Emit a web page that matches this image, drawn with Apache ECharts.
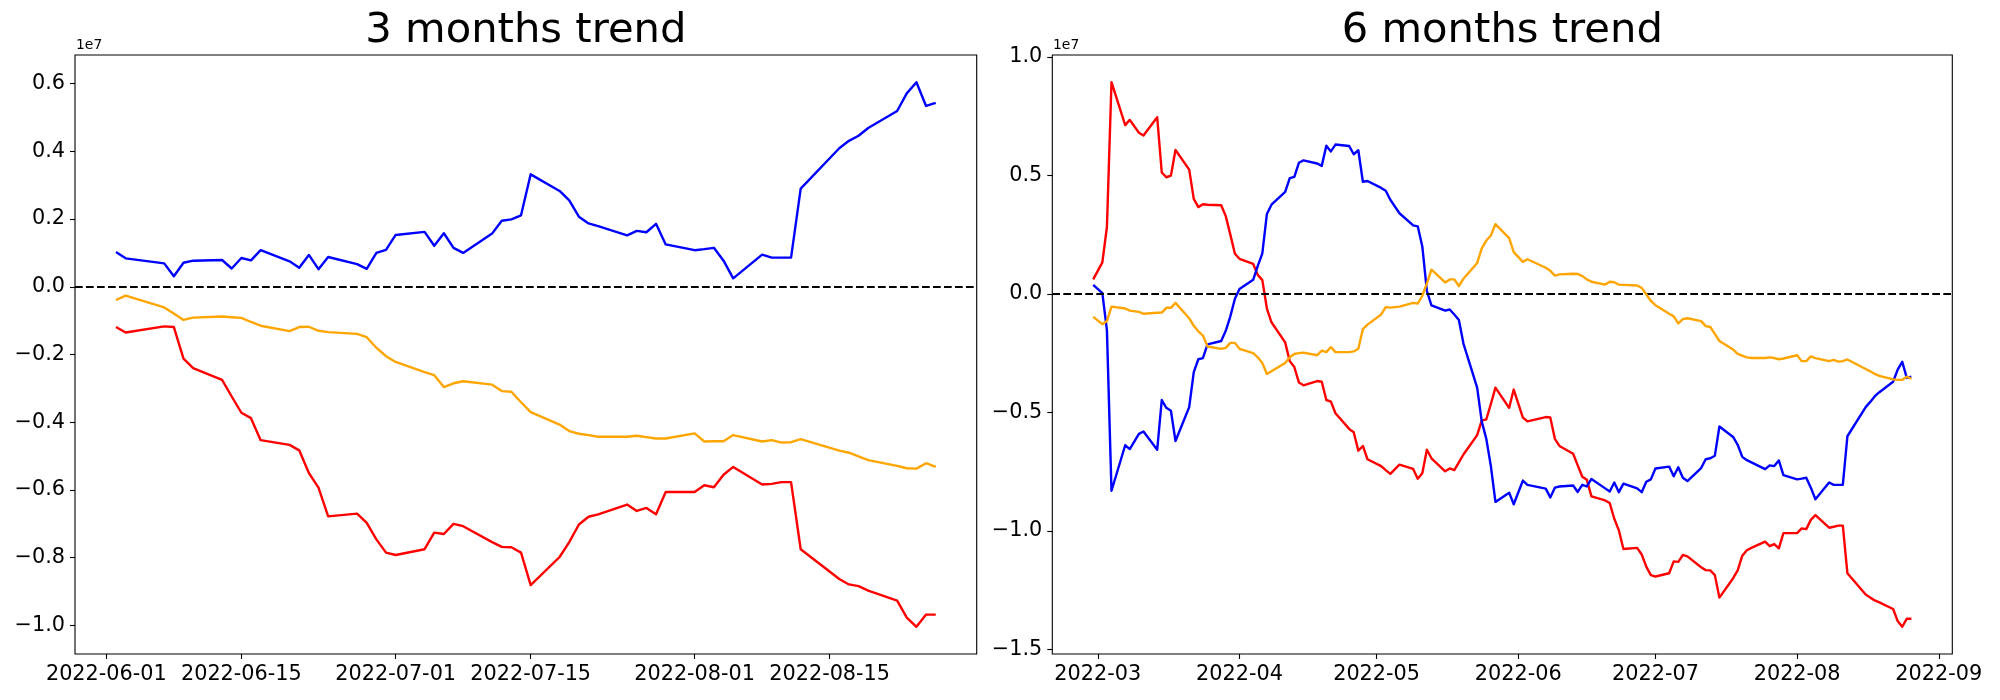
<!DOCTYPE html>
<html>
<head>
<meta charset="utf-8">
<script src="https://cdn.jsdelivr.net/npm/echarts@6/dist/echarts.min.js"></script>
<style>
html,body{margin:0;padding:0;background:#fff;}
#chart{width:2000px;height:700px;}
</style>
</head>
<body>
<div id="chart"></div>
<script>
// ---------- DATA (values in units of 1e7) ----------
const dates3 = ['2022-06-02','2022-06-03','2022-06-07','2022-06-08','2022-06-09','2022-06-10','2022-06-13','2022-06-14','2022-06-15','2022-06-16','2022-06-17','2022-06-20','2022-06-21','2022-06-22','2022-06-23','2022-06-24','2022-06-27','2022-06-28','2022-06-29','2022-06-30','2022-07-01','2022-07-04','2022-07-05','2022-07-06','2022-07-07','2022-07-08','2022-07-11','2022-07-12','2022-07-13','2022-07-14','2022-07-15','2022-07-18','2022-07-19','2022-07-20','2022-07-21','2022-07-22','2022-07-25','2022-07-26','2022-07-27','2022-07-28','2022-07-29','2022-08-01','2022-08-02','2022-08-03','2022-08-04','2022-08-05','2022-08-08','2022-08-09','2022-08-10','2022-08-11','2022-08-12','2022-08-16','2022-08-17','2022-08-18','2022-08-19','2022-08-22','2022-08-23','2022-08-24','2022-08-25','2022-08-26'];
const blue3 = [0.103,0.084,0.069,0.031,0.071,0.077,0.079,0.054,0.085,0.078,0.108,0.075,0.056,0.094,0.052,0.088,0.067,0.053,0.100,0.109,0.153,0.162,0.121,0.158,0.115,0.100,0.157,0.195,0.199,0.211,0.332,0.283,0.255,0.207,0.187,0.179,0.152,0.165,0.161,0.186,0.125,0.108,0.111,0.115,0.077,0.025,0.095,0.086,0.086,0.086,0.290,0.409,0.431,0.446,0.469,0.519,0.571,0.604,0.534,0.543];
const orange3 = [-0.039,-0.026,-0.061,-0.079,-0.098,-0.091,-0.088,-0.090,-0.092,-0.104,-0.115,-0.131,-0.119,-0.118,-0.130,-0.134,-0.139,-0.149,-0.180,-0.205,-0.222,-0.252,-0.261,-0.296,-0.285,-0.279,-0.289,-0.308,-0.310,-0.341,-0.370,-0.407,-0.426,-0.434,-0.438,-0.443,-0.443,-0.440,-0.444,-0.448,-0.448,-0.433,-0.457,-0.456,-0.456,-0.438,-0.457,-0.453,-0.460,-0.459,-0.450,-0.484,-0.490,-0.501,-0.512,-0.529,-0.536,-0.537,-0.521,-0.532];
const red3 = [-0.119,-0.135,-0.117,-0.119,-0.212,-0.240,-0.275,-0.324,-0.372,-0.388,-0.453,-0.467,-0.483,-0.550,-0.593,-0.678,-0.670,-0.697,-0.746,-0.785,-0.792,-0.775,-0.726,-0.730,-0.700,-0.707,-0.754,-0.768,-0.769,-0.785,-0.881,-0.798,-0.754,-0.702,-0.679,-0.672,-0.643,-0.662,-0.653,-0.672,-0.606,-0.606,-0.586,-0.592,-0.555,-0.532,-0.584,-0.582,-0.577,-0.577,-0.775,-0.863,-0.879,-0.884,-0.897,-0.927,-0.977,-1.004,-0.968,-0.968];

const dates6 = ['2022-02-28','2022-03-02','2022-03-03','2022-03-04','2022-03-07','2022-03-08','2022-03-10','2022-03-11','2022-03-14','2022-03-15','2022-03-16','2022-03-17','2022-03-18','2022-03-21','2022-03-22','2022-03-23','2022-03-24','2022-03-25','2022-03-28','2022-03-29','2022-03-30','2022-03-31','2022-04-01','2022-04-04','2022-04-05','2022-04-06','2022-04-07','2022-04-08','2022-04-11','2022-04-12','2022-04-13','2022-04-14','2022-04-15','2022-04-18','2022-04-19','2022-04-20','2022-04-21','2022-04-22','2022-04-25','2022-04-26','2022-04-27','2022-04-28','2022-04-29','2022-05-02','2022-05-03','2022-05-04','2022-05-06','2022-05-09','2022-05-10','2022-05-11','2022-05-12','2022-05-13','2022-05-16','2022-05-17','2022-05-18','2022-05-19','2022-05-20','2022-05-23','2022-05-24','2022-05-25','2022-05-26','2022-05-27','2022-05-30','2022-05-31','2022-06-02','2022-06-03','2022-06-07','2022-06-08','2022-06-09','2022-06-10','2022-06-13','2022-06-14','2022-06-15','2022-06-16','2022-06-17','2022-06-20','2022-06-21','2022-06-22','2022-06-23','2022-06-24','2022-06-27','2022-06-28','2022-06-29','2022-06-30','2022-07-01','2022-07-04','2022-07-05','2022-07-06','2022-07-07','2022-07-08','2022-07-11','2022-07-12','2022-07-13','2022-07-14','2022-07-15','2022-07-18','2022-07-19','2022-07-20','2022-07-21','2022-07-22','2022-07-25','2022-07-26','2022-07-27','2022-07-28','2022-07-29','2022-08-01','2022-08-02','2022-08-03','2022-08-04','2022-08-05','2022-08-08','2022-08-09','2022-08-10','2022-08-11','2022-08-12','2022-08-16','2022-08-17','2022-08-18','2022-08-19','2022-08-22','2022-08-23','2022-08-24','2022-08-25','2022-08-26'];
const blue6 = [0.038,0.003,-0.153,-0.831,-0.639,-0.655,-0.591,-0.581,-0.658,-0.448,-0.481,-0.493,-0.621,-0.478,-0.330,-0.276,-0.271,-0.213,-0.199,-0.156,-0.095,-0.021,0.020,0.059,0.118,0.171,0.337,0.376,0.430,0.488,0.494,0.553,0.563,0.550,0.540,0.625,0.601,0.630,0.624,0.589,0.606,0.473,0.476,0.447,0.435,0.397,0.340,0.289,0.285,0.200,0.012,-0.049,-0.071,-0.066,-0.087,-0.110,-0.210,-0.396,-0.538,-0.612,-0.727,-0.878,-0.839,-0.888,-0.788,-0.806,-0.822,-0.859,-0.818,-0.813,-0.809,-0.836,-0.806,-0.813,-0.781,-0.821,-0.834,-0.796,-0.837,-0.801,-0.821,-0.837,-0.793,-0.783,-0.737,-0.729,-0.770,-0.732,-0.776,-0.790,-0.735,-0.698,-0.694,-0.683,-0.560,-0.604,-0.637,-0.688,-0.702,-0.711,-0.740,-0.724,-0.727,-0.703,-0.765,-0.783,-0.780,-0.776,-0.818,-0.867,-0.796,-0.806,-0.806,-0.806,-0.601,-0.478,-0.456,-0.432,-0.415,-0.371,-0.320,-0.287,-0.355,-0.350];
const red6 = [0.061,0.133,0.282,0.893,0.712,0.734,0.680,0.668,0.745,0.512,0.492,0.499,0.607,0.524,0.401,0.366,0.378,0.376,0.374,0.328,0.250,0.169,0.148,0.126,0.080,0.058,-0.062,-0.120,-0.205,-0.284,-0.309,-0.374,-0.386,-0.368,-0.371,-0.448,-0.455,-0.504,-0.570,-0.584,-0.662,-0.642,-0.698,-0.727,-0.744,-0.760,-0.721,-0.739,-0.780,-0.757,-0.658,-0.694,-0.749,-0.737,-0.744,-0.711,-0.678,-0.596,-0.535,-0.530,-0.465,-0.396,-0.481,-0.404,-0.522,-0.538,-0.520,-0.522,-0.612,-0.642,-0.675,-0.724,-0.772,-0.785,-0.855,-0.872,-0.883,-0.949,-0.998,-1.077,-1.072,-1.100,-1.151,-1.187,-1.193,-1.179,-1.129,-1.131,-1.102,-1.108,-1.154,-1.166,-1.167,-1.187,-1.282,-1.200,-1.167,-1.105,-1.082,-1.072,-1.046,-1.065,-1.056,-1.074,-1.010,-1.010,-0.990,-0.993,-0.954,-0.934,-0.987,-0.983,-0.978,-0.978,-1.179,-1.269,-1.282,-1.294,-1.302,-1.330,-1.381,-1.405,-1.371,-1.371];
const orange6 = [-0.097,-0.128,-0.115,-0.054,-0.062,-0.071,-0.076,-0.084,-0.080,-0.079,-0.059,-0.059,-0.038,-0.103,-0.135,-0.158,-0.176,-0.222,-0.232,-0.228,-0.207,-0.207,-0.232,-0.250,-0.268,-0.292,-0.338,-0.327,-0.292,-0.268,-0.254,-0.250,-0.248,-0.259,-0.240,-0.246,-0.225,-0.246,-0.246,-0.243,-0.232,-0.149,-0.130,-0.087,-0.056,-0.058,-0.054,-0.038,-0.041,-0.008,0.044,0.102,0.048,0.061,0.061,0.033,0.064,0.130,0.192,0.225,0.246,0.294,0.235,0.176,0.135,0.146,0.110,0.097,0.077,0.082,0.085,0.084,0.075,0.061,0.051,0.039,0.051,0.049,0.039,0.038,0.035,0.025,-0.002,-0.030,-0.048,-0.084,-0.095,-0.125,-0.107,-0.103,-0.115,-0.136,-0.140,-0.169,-0.199,-0.235,-0.253,-0.261,-0.268,-0.271,-0.271,-0.268,-0.271,-0.276,-0.273,-0.259,-0.284,-0.284,-0.264,-0.271,-0.284,-0.279,-0.286,-0.284,-0.277,-0.317,-0.327,-0.338,-0.346,-0.361,-0.363,-0.363,-0.350,-0.358];

const xTicks3 = ['2022-06-01','2022-06-15','2022-07-01','2022-07-15','2022-08-01','2022-08-15'];
const xTickLabels3 = ['2022-06-01','2022-06-15','2022-07-01','2022-07-15','2022-08-01','2022-08-15'];
const xTicks6 = ['2022-03-01','2022-04-01','2022-05-01','2022-06-01','2022-07-01','2022-08-01','2022-09-01'];
const xTickLabels6 = ['2022-03','2022-04','2022-05','2022-06','2022-07','2022-08','2022-09'];
const yTicks3 = [-1.0,-0.8,-0.6,-0.4,-0.2,0.0,0.2,0.4,0.6];
const yTicks6 = [-1.5,-1.0,-0.5,0.0,0.5,1.0];
const titles = ['3 months trend','6 months trend'];
const offsetLabel = '1e7';

// ---------- helpers ----------
const DAY = 86400000;
function ts(s){const p=s.split('-').map(Number);return Date.UTC(p[0],p[1]-1,p[2]);}
function dayNum(s){return ts(s)/DAY;}
function pairs(dates, vals){return dates.map((d,i)=>[dayNum(d), vals[i]]);}
function fmtY(v){const s=(Math.round(v*10)/10).toFixed(1);return s.replace('-', '\u2212');}
function range(arr){let mn=Infinity,mx=-Infinity;arr.forEach(a=>a.forEach(v=>{if(v<mn)mn=v;if(v>mx)mx=v;}));const m=(mx-mn)*0.05;return [mn-m,mx+m];}

const FONT = 'DejaVu Sans';
const LW = 2.4;
const DLW = 2.08;
const G = [
  {left:75, top:55, width:901.7, height:599},
  {left:1052.3, top:55, width:900, height:599}
];

function xAxisFor(idx, dates, ticks, labels){
  const t0=dayNum(dates[0]), t1=dayNum(dates[dates.length-1]), m=(t1-t0)*0.05;
  const tickDays = ticks.map(dayNum);
  return {
    type:'value', gridIndex:idx, min:t0-m, max:t1+m, scale:true, position:'bottom',
    axisLine:{show:false, onZero:false},
    splitLine:{show:false},
    axisTick:{show:true, inside:false, length:5, lineStyle:{color:'#000', width:1.1}, customValues:tickDays},
    axisLabel:{show:true, margin:10, fontFamily:FONT, fontSize:20.8, color:'#000',
      customValues:tickDays, hideOverlap:false, showMinLabel:true, showMaxLabel:true,
      formatter:function(v){let best=-1,bd=1e9;tickDays.forEach((t,i)=>{const d=Math.abs(t-v);if(d<bd){bd=d;best=i;}});return bd<0.5?labels[best]:'';}}
  };
}
function yAxisFor(idx, seriesVals, ticks){
  const r = range(seriesVals);
  return {
    type:'value', gridIndex:idx, min:r[0], max:r[1], scale:true, position:'left',
    axisLine:{show:false, onZero:false},
    splitLine:{show:false},
    axisTick:{show:true, inside:false, length:5, lineStyle:{color:'#000', width:1.1}, customValues:ticks},
    axisLabel:{show:true, margin:10, fontFamily:FONT, fontSize:20.8, color:'#000',
      customValues:ticks, showMinLabel:true, showMaxLabel:true, formatter:fmtY}
  };
}
function lineSeries(idx, data, color, z){
  return {type:'line', xAxisIndex:idx, yAxisIndex:idx, data:data, showSymbol:false, symbol:'none',
    lineStyle:{color:color, width:LW, join:'round', cap:'butt'}, itemStyle:{color:color}, z:z, animation:false, silent:true};
}
function zeroLine(idx){
  return {type:'line', xAxisIndex:idx, yAxisIndex:idx, data:[], z:10, silent:true,
    markLine:{silent:true, symbol:['none','none'], label:{show:false}, animation:false,
      lineStyle:{color:'#000', width:DLW, type:[7.7,3.3]},
      data:[{yAxis:0}]}};
}

const chart = echarts.init(document.getElementById('chart'), null, {renderer:'canvas', width:2000, height:700});
const option = {
  animation:false,
  backgroundColor:'#fff',
  grid: G.map(g=>Object.assign({show:true, borderColor:'#000', borderWidth:1.1, backgroundColor:'transparent', containLabel:false}, g)),
  xAxis:[xAxisFor(0, dates3, xTicks3, xTickLabels3), xAxisFor(1, dates6, xTicks6, xTickLabels6)],
  yAxis:[yAxisFor(0,[blue3,orange3,red3], yTicks3), yAxisFor(1,[blue6,orange6,red6], yTicks6)],
  series:[
    lineSeries(0, pairs(dates3, blue3), '#0000ff', 3),
    lineSeries(0, pairs(dates3, orange3), '#ffa500', 4),
    lineSeries(0, pairs(dates3, red3), '#ff0000', 5),
    zeroLine(0),
    lineSeries(1, pairs(dates6, red6), '#ff0000', 3),
    lineSeries(1, pairs(dates6, blue6), '#0000ff', 4),
    lineSeries(1, pairs(dates6, orange6), '#ffa500', 5),
    zeroLine(1)
  ],
  graphic: [
    {type:'text', x:G[0].left+G[0].width/2, y:31, style:{text:titles[0], font:'41.7px "DejaVu Sans"', fill:'#000', align:'center', verticalAlign:'middle'}},
    {type:'text', x:G[1].left+G[1].width/2, y:31, style:{text:titles[1], font:'41.7px "DejaVu Sans"', fill:'#000', align:'center', verticalAlign:'middle'}},
    {type:'text', x:76, y:52, style:{text:offsetLabel, font:'13.9px "DejaVu Sans"', fill:'#000', align:'left', verticalAlign:'bottom'}},
    {type:'text', x:1053, y:52, style:{text:offsetLabel, font:'13.9px "DejaVu Sans"', fill:'#000', align:'left', verticalAlign:'bottom'}}
  ]
};
chart.setOption(option);
</script>
</body>
</html>
